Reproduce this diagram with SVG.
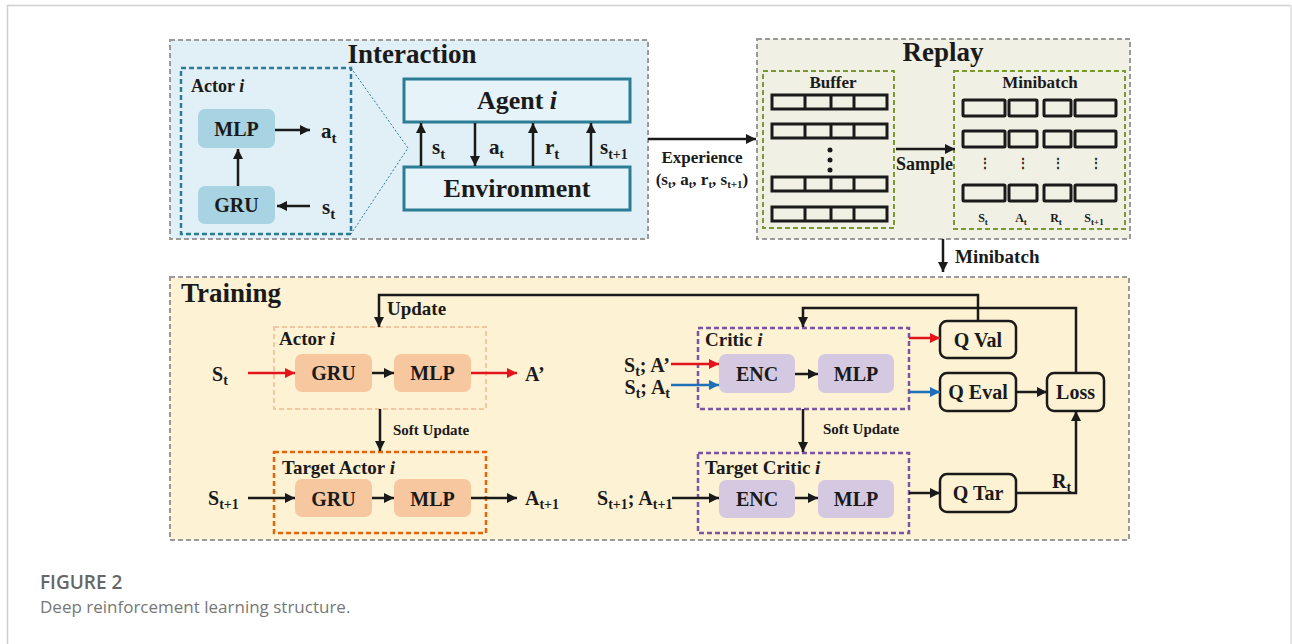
<svg xmlns="http://www.w3.org/2000/svg" width="1292" height="644" viewBox="0 0 1292 644">
<defs>
<marker id="ab" viewBox="0 0 10 10" refX="10" refY="5" markerWidth="11" markerHeight="10" markerUnits="userSpaceOnUse" orient="auto"><path d="M0,0 L10,5 L0,10 z" fill="#1a1a1a"/></marker>
<marker id="ar" viewBox="0 0 10 10" refX="10" refY="5" markerWidth="11" markerHeight="10" markerUnits="userSpaceOnUse" orient="auto"><path d="M0,0 L10,5 L0,10 z" fill="#e3141b"/></marker>
<marker id="au" viewBox="0 0 10 10" refX="10" refY="5" markerWidth="11" markerHeight="10" markerUnits="userSpaceOnUse" orient="auto"><path d="M0,0 L10,5 L0,10 z" fill="#1f6fb8"/></marker>
</defs>
<style>
text{font-family:"Liberation Serif","Times New Roman",serif;font-weight:bold;fill:#1a1a1a}
.t27{font-size:27px}.t26{font-size:26px}.t21{font-size:21px}.t20{font-size:20px}.t19{font-size:19px}.t18{font-size:18px}.t17{font-size:17px}.t15{font-size:15px}.t12{font-size:12px}
.mid{text-anchor:middle}
.sec{stroke:#9a9a9a;stroke-width:2;stroke-dasharray:5 3}
.ln{fill:none;stroke:#1a1a1a;stroke-width:2.5}
.lr{fill:none;stroke:#e3141b;stroke-width:2.5}
.lu{fill:none;stroke:#1f6fb8;stroke-width:2.5}
.cell{fill:none;stroke:#1a1a1a;stroke-width:3}
.qbox{fill:#fdf2d3;stroke:#1a1a1a;stroke-width:2.5}
.blue{fill:#a7d3e2}.peach{fill:#f7c7a0}.lav{fill:#d5c9e2}
.cap{font-family:"Open Sans","Liberation Sans",sans-serif}
</style>
<rect x="0" y="0" width="1292" height="644" fill="#ffffff"/>
<path d="M7.5,644 V5.5 H1291" fill="none" stroke="#cfcfcf" stroke-width="1.5"/>
<line x1="1291" y1="5.5" x2="1291" y2="644" stroke="#dcdcdc" stroke-width="1.5"/>

<g id="interaction">
<rect x="170" y="40" width="478" height="199" fill="#e1f0f6" class="sec"/>
<text x="412" y="63" class="t27 mid">Interaction</text>
</g>
<g id="actor-interaction">
<rect x="181" y="68" width="170" height="166" fill="none" stroke="#2b7d96" stroke-width="2.5" stroke-dasharray="5 3"/>
<text x="191" y="92" class="t18">Actor <tspan font-style="italic">i</tspan></text>
<path d="M351,68 L408,148 L351,234" fill="none" stroke="#2b7d96" stroke-width="1" stroke-dasharray="2 2"/>
</g>
<g id="mlp-int"><rect x="198" y="109" width="77" height="39" rx="7" class="blue"/><text x="236.5" y="136" class="t20 mid">MLP</text></g>
<g id="gru-int"><rect x="198" y="186" width="77" height="38" rx="7" class="blue"/><text x="236.5" y="212" class="t20 mid">GRU</text></g>
<text x="321" y="138" class="t21">a<tspan dy="5" font-size="15">t</tspan></text>
<text x="322" y="214" class="t21">s<tspan dy="5" font-size="15">t</tspan></text>
<g id="agent"><rect x="404" y="79" width="226" height="43" fill="#e6f3f8" stroke="#2b7d96" stroke-width="3"/><text x="517" y="109" class="t26 mid">Agent <tspan font-style="italic">i</tspan></text></g>
<g id="environment"><rect x="404" y="167" width="226" height="43" fill="#e6f3f8" stroke="#2b7d96" stroke-width="3"/><text x="517" y="197" class="t26 mid">Environment</text></g>
<text x="432" y="154" class="t21">s<tspan dy="5" font-size="15">t</tspan></text>
<text x="489" y="154" class="t21">a<tspan dy="4" font-size="13">t</tspan></text>
<text x="545" y="154" class="t21">r<tspan dy="5" font-size="15">t</tspan></text>
<text x="600" y="154" class="t21">s<tspan dy="5" font-size="14">t+1</tspan></text>

<g id="replay">
<rect x="757" y="39" width="373" height="200" fill="#f0f0e4" class="sec"/>
<text x="943" y="61" class="t27 mid">Replay</text>
</g>
<g id="buffer">
<rect x="763" y="71" width="131" height="157" fill="none" stroke="#7a9a30" stroke-width="2" stroke-dasharray="5 3"/>
<text x="833" y="88" class="t17 mid">Buffer</text>
<g class="cell">
<rect x="772" y="95" width="115" height="14"/><path d="M805,95v14M831,95v14M854,95v14"/>
<rect x="772" y="124" width="115" height="14"/><path d="M805,124v14M831,124v14M854,124v14"/>
<rect x="772" y="177" width="115" height="14"/><path d="M805,177v14M831,177v14M854,177v14"/>
<rect x="772" y="207" width="115" height="14"/><path d="M805,207v14M831,207v14M854,207v14"/>
</g>
<circle cx="830" cy="150" r="2.5" fill="#1a1a1a"/><circle cx="830" cy="160" r="2.5" fill="#1a1a1a"/><circle cx="830" cy="170" r="2.5" fill="#1a1a1a"/>
</g>
<g id="minibatch">
<rect x="954" y="71" width="171" height="158" fill="none" stroke="#7a9a30" stroke-width="2" stroke-dasharray="5 3"/>
<text x="1040" y="88" class="t17 mid">Minibatch</text>
<g class="cell">
<rect x="963" y="100" width="42" height="16" rx="1"/><rect x="1009" y="100" width="28" height="16" rx="1"/><rect x="1044" y="100" width="27" height="16" rx="1"/><rect x="1075" y="100" width="41" height="16" rx="1"/>
<rect x="963" y="131" width="42" height="16" rx="1"/><rect x="1009" y="131" width="28" height="16" rx="1"/><rect x="1044" y="131" width="27" height="16" rx="1"/><rect x="1075" y="131" width="41" height="16" rx="1"/>
<rect x="963" y="185" width="42" height="16" rx="1"/><rect x="1009" y="185" width="28" height="16" rx="1"/><rect x="1044" y="185" width="27" height="16" rx="1"/><rect x="1075" y="185" width="41" height="16" rx="1"/>
</g>
<text x="985" y="167" class="t12 mid">⋮</text><text x="1023" y="167" class="t12 mid">⋮</text><text x="1058" y="167" class="t12 mid">⋮</text><text x="1096" y="167" class="t12 mid">⋮</text>
<text x="983" y="222" class="t12 mid">S<tspan dy="3" font-size="9">t</tspan></text>
<text x="1021" y="222" class="t12 mid">A<tspan dy="3" font-size="9">t</tspan></text>
<text x="1056" y="222" class="t12 mid">R<tspan dy="3" font-size="9">t</tspan></text>
<text x="1094" y="222" class="t12 mid">S<tspan dy="3" font-size="9">t+1</tspan></text>
</g>
<text x="702" y="163" class="t17 mid">Experience</text>
<text x="702" y="185" class="t17 mid">(s<tspan dy="3" font-size="11">t</tspan><tspan dy="-3">, a</tspan><tspan dy="3" font-size="11">t</tspan><tspan dy="-3">, r</tspan><tspan dy="3" font-size="11">t</tspan><tspan dy="-3">, s</tspan><tspan dy="3" font-size="11">t+1</tspan><tspan dy="-3">)</tspan></text>
<text x="896" y="170" class="t18">Sample</text>
<text x="955" y="263" class="t19">Minibatch</text>

<g id="training">
<rect x="170" y="277" width="959" height="263" fill="#fdf2d3" class="sec"/>
<text x="181" y="302" class="t27">Training</text>
</g>
<g id="actor-train">
<rect x="274" y="327" width="212" height="82" fill="none" stroke="#f6c79f" stroke-width="2" stroke-dasharray="5 3"/>
<text x="279" y="345" class="t19">Actor <tspan font-style="italic">i</tspan></text>
</g>
<g id="gru-a"><rect x="295" y="354" width="77" height="38" rx="7" class="peach"/><text x="333.5" y="380" class="t20 mid">GRU</text></g>
<g id="mlp-a"><rect x="394" y="354" width="77" height="38" rx="7" class="peach"/><text x="432.5" y="380" class="t20 mid">MLP</text></g>
<g id="target-actor">
<rect x="274" y="452" width="212" height="81" fill="none" stroke="#e4650f" stroke-width="2.5" stroke-dasharray="5 3"/>
<text x="282" y="474" class="t19">Target Actor <tspan font-style="italic">i</tspan></text>
</g>
<g id="gru-ta"><rect x="295" y="479" width="77" height="38" rx="7" class="peach"/><text x="333.5" y="506" class="t20 mid">GRU</text></g>
<g id="mlp-ta"><rect x="394" y="479" width="77" height="38" rx="7" class="peach"/><text x="432.5" y="506" class="t20 mid">MLP</text></g>
<text x="212" y="381" class="t20">S<tspan dy="4" font-size="14">t</tspan></text>
<text x="525" y="381" class="t20">A’</text>
<text x="208" y="505" class="t20">S<tspan dy="4" font-size="14">t+1</tspan></text>
<text x="525" y="505" class="t20">A<tspan dy="4" font-size="14">t+1</tspan></text>
<text x="387" y="315" class="t19">Update</text>
<text x="393" y="435" class="t15">Soft Update</text>

<g id="critic">
<rect x="698" y="328" width="211" height="81" fill="none" stroke="#7b55a3" stroke-width="2.5" stroke-dasharray="5 3"/>
<text x="705" y="346" class="t19">Critic <tspan font-style="italic">i</tspan></text>
</g>
<g id="enc-c"><rect x="719" y="354" width="76" height="39" rx="7" class="lav"/><text x="757" y="381" class="t20 mid">ENC</text></g>
<g id="mlp-c"><rect x="818" y="354" width="76" height="39" rx="7" class="lav"/><text x="856" y="381" class="t20 mid">MLP</text></g>
<g id="target-critic">
<rect x="698" y="453" width="211" height="80" fill="none" stroke="#7b55a3" stroke-width="2.5" stroke-dasharray="5 3"/>
<text x="705" y="474" class="t19">Target Critic <tspan font-style="italic">i</tspan></text>
</g>
<g id="enc-tc"><rect x="719" y="480" width="76" height="38" rx="7" class="lav"/><text x="757" y="506" class="t20 mid">ENC</text></g>
<g id="mlp-tc"><rect x="818" y="480" width="76" height="38" rx="7" class="lav"/><text x="856" y="506" class="t20 mid">MLP</text></g>
<text x="670" y="372" class="t20" text-anchor="end">S<tspan dy="4" font-size="14">t</tspan><tspan dy="-4">; A’</tspan></text>
<text x="670" y="394" class="t20" text-anchor="end">S<tspan dy="4" font-size="14">t</tspan><tspan dy="-4">; A</tspan><tspan dy="4" font-size="14">t</tspan></text>
<text x="597" y="505" class="t20">S<tspan dy="4" font-size="14">t+1</tspan><tspan dy="-4">; A</tspan><tspan dy="4" font-size="14">t+1</tspan></text>
<text x="823" y="434" class="t15">Soft Update</text>
<g id="qval"><rect x="940" y="321" width="76" height="37" rx="7" class="qbox"/><text x="978" y="347" class="t20 mid">Q Val</text></g>
<g id="qeval"><rect x="940" y="373" width="76" height="38" rx="7" class="qbox"/><text x="978" y="399" class="t20 mid">Q Eval</text></g>
<g id="loss"><rect x="1047" y="373" width="57" height="38" rx="7" class="qbox"/><text x="1075.5" y="399" class="t20 mid">Loss</text></g>
<g id="qtar"><rect x="940" y="474" width="76" height="38" rx="7" class="qbox"/><text x="978" y="500" class="t20 mid">Q Tar</text></g>
<text x="1052" y="488" class="t20">R<tspan dy="4" font-size="14">t</tspan></text>

<g id="connectors">
<line x1="275" y1="130" x2="310" y2="130" class="ln" marker-end="url(#ab)"/>
<line x1="310" y1="206" x2="277" y2="206" class="ln" marker-end="url(#ab)"/>
<line x1="238" y1="186" x2="238" y2="149" class="ln" marker-end="url(#ab)"/>
<line x1="421" y1="166" x2="421" y2="123" class="ln" stroke-width="3" marker-end="url(#ab)"/>
<line x1="475" y1="123" x2="475" y2="166" class="ln" stroke-width="3" marker-end="url(#ab)"/>
<line x1="533" y1="166" x2="533" y2="123" class="ln" stroke-width="3" marker-end="url(#ab)"/>
<line x1="591" y1="166" x2="591" y2="123" class="ln" stroke-width="3" marker-end="url(#ab)"/>
<line x1="648" y1="139" x2="756" y2="139" class="ln" stroke-width="3" marker-end="url(#ab)"/>
<line x1="896" y1="149" x2="955" y2="149" class="ln" stroke-width="3" marker-end="url(#ab)"/>
<line x1="943" y1="239" x2="943" y2="272" class="ln" stroke-width="3" marker-end="url(#ab)"/>
<line x1="248" y1="373" x2="295" y2="373" class="lr" marker-end="url(#ar)"/>
<line x1="372" y1="373" x2="394" y2="373" class="ln" marker-end="url(#ab)"/>
<line x1="471" y1="373" x2="517" y2="373" class="lr" marker-end="url(#ar)"/>
<line x1="248" y1="498" x2="295" y2="498" class="ln" marker-end="url(#ab)"/>
<line x1="372" y1="498" x2="394" y2="498" class="ln" marker-end="url(#ab)"/>
<line x1="471" y1="498" x2="517" y2="498" class="ln" marker-end="url(#ab)"/>
<line x1="380" y1="409" x2="380" y2="451" class="ln" marker-end="url(#ab)"/>
<path d="M978,321 V295 H379 V327" class="ln" marker-end="url(#ab)"/>
<path d="M1076,373 V308 H803 V327" class="ln" marker-end="url(#ab)"/>
<line x1="671" y1="364" x2="719" y2="364" class="lr" marker-end="url(#ar)"/>
<line x1="671" y1="385" x2="719" y2="385" class="lu" marker-end="url(#au)"/>
<line x1="795" y1="374" x2="818" y2="374" class="ln" marker-end="url(#ab)"/>
<line x1="803" y1="409" x2="803" y2="452" class="ln" marker-end="url(#ab)"/>
<line x1="672" y1="498" x2="719" y2="498" class="ln" marker-end="url(#ab)"/>
<line x1="795" y1="498" x2="818" y2="498" class="ln" marker-end="url(#ab)"/>
<line x1="909" y1="338" x2="940" y2="338" class="lr" marker-end="url(#ar)"/>
<line x1="909" y1="392" x2="940" y2="392" class="lu" marker-end="url(#au)"/>
<line x1="1016" y1="392" x2="1047" y2="392" class="ln" marker-end="url(#ab)"/>
<line x1="909" y1="493" x2="940" y2="493" class="ln" marker-end="url(#ab)"/>
<path d="M1016,493 H1076 V411" class="ln" marker-end="url(#ab)"/>
</g>

<text x="40" y="589" class="cap" font-size="19" style="font-weight:600;fill:#666">FIGURE 2</text>
<text x="40" y="613" class="cap" font-size="17" style="font-weight:normal;fill:#777">Deep reinforcement learning structure.</text>
</svg>
